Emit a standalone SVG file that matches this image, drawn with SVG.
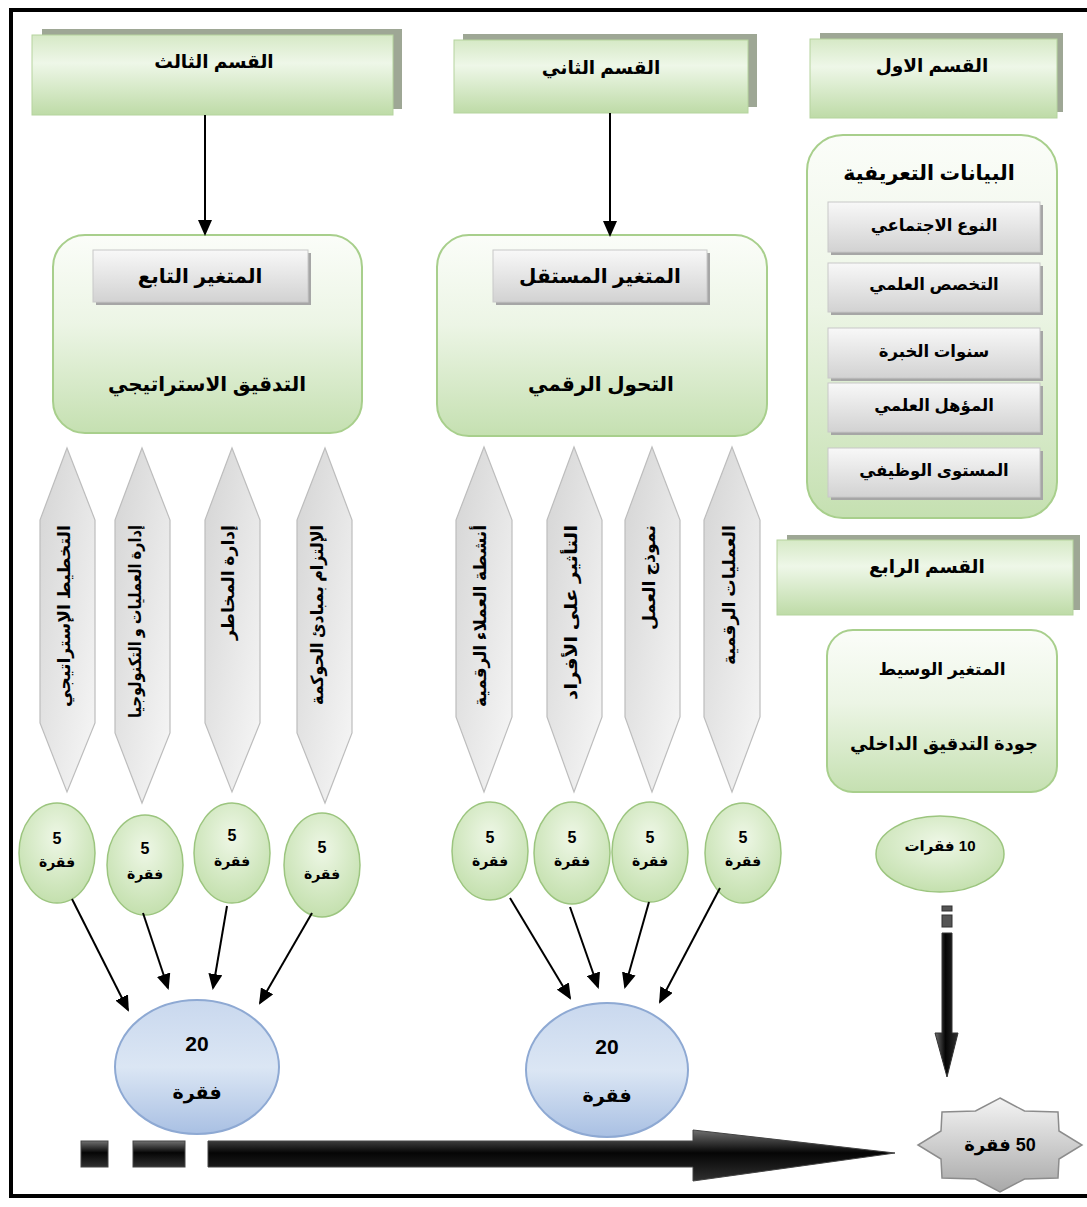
<svg xmlns="http://www.w3.org/2000/svg" width="1087" height="1207" viewBox="0 0 1087 1207">
<defs>
<style>
.t{font-family:"Liberation Sans","DejaVu Sans",sans-serif;font-weight:bold;fill:#000;text-anchor:middle}
.rtl{direction:rtl;unicode-bidi:embed}
.v{font-family:"Liberation Sans","DejaVu Sans",sans-serif;font-weight:bold;fill:#000;text-anchor:end;font-size:17px}
.hdr{fill:url(#gHdr);stroke:#b5d49e;stroke-width:1}
.hsh{fill:#9ea795}
.vbox{fill:url(#gVar);stroke:#a8cf8c;stroke-width:2}
.gbox{fill:url(#gGray);stroke:#c8c8c8;stroke-width:1}
.gsh{fill:#a6a6a6}
.dia{fill:url(#gDia);stroke:#bdbdbd;stroke-width:1.2}
.sc{fill:url(#gCirc);stroke:#9cc57f;stroke-width:1.5}
.bc{fill:url(#gBlue);stroke:#8ea9d3;stroke-width:2}
.ln{stroke:#000;stroke-width:2;fill:none;marker-end:url(#ah)}
.blk{fill:url(#gBlk);stroke:#444;stroke-width:1}
</style>
<linearGradient id="gHdr" x1="0" y1="0" x2="0" y2="1"><stop offset="0" stop-color="#d6e9c6"/><stop offset="0.35" stop-color="#eef7e8"/><stop offset="1" stop-color="#bedba7"/></linearGradient>
<linearGradient id="gVar" x1="0" y1="0" x2="0" y2="1"><stop offset="0" stop-color="#fbfdf9"/><stop offset="0.45" stop-color="#ecf5e5"/><stop offset="1" stop-color="#c5e0b1"/></linearGradient>
<linearGradient id="gGray" x1="0" y1="0" x2="0" y2="1"><stop offset="0" stop-color="#f8f8f8"/><stop offset="1" stop-color="#d2d2d2"/></linearGradient>
<linearGradient id="gDia" x1="0" y1="0" x2="1" y2="1"><stop offset="0" stop-color="#d4d4d4"/><stop offset="1" stop-color="#f7f7f7"/></linearGradient>
<radialGradient id="gCirc" cx="0.5" cy="0.35" r="0.65"><stop offset="0" stop-color="#eef7e6"/><stop offset="1" stop-color="#c4e0ae"/></radialGradient>
<linearGradient id="gBlue" x1="0" y1="0" x2="0" y2="1"><stop offset="0" stop-color="#c9d8ee"/><stop offset="0.5" stop-color="#dbe6f4"/><stop offset="1" stop-color="#a9c0e3"/></linearGradient>
<linearGradient id="gStar" x1="0" y1="0" x2="0" y2="1"><stop offset="0" stop-color="#f4f4f4"/><stop offset="1" stop-color="#a8a8a8"/></linearGradient>
<linearGradient id="gBlk" x1="0" y1="0" x2="0" y2="1"><stop offset="0" stop-color="#707070"/><stop offset="0.45" stop-color="#050505"/><stop offset="1" stop-color="#303030"/></linearGradient>
<linearGradient id="gBlkV" x1="0" y1="0" x2="1" y2="0"><stop offset="0" stop-color="#707070"/><stop offset="0.45" stop-color="#050505"/><stop offset="1" stop-color="#303030"/></linearGradient>
<marker id="ah" markerWidth="16" markerHeight="14" refX="14" refY="7" orient="auto" markerUnits="userSpaceOnUse"><path d="M0,0 L16,7 L0,14 Z" fill="#000"/></marker>
</defs>
<rect width="1087" height="1207" fill="#fff"/>
<rect x="11" y="10" width="1090" height="1186" fill="none" stroke="#000" stroke-width="4"/>

<g id="h3"><rect class="hsh" x="42" y="29" width="360" height="80"/><rect class="hdr" x="32" y="35" width="361" height="80"/><text class="t" x="214" y="68" font-size="18.5">القسم الثالث</text></g>
<g id="h2"><rect class="hsh" x="463" y="34" width="294" height="73"/><rect class="hdr" x="454" y="40" width="294" height="73"/><text class="t" x="601" y="74" font-size="18.5">القسم الثاني</text></g>
<g id="h1"><rect class="hsh" x="820" y="33" width="243" height="79"/><rect class="hdr" x="810" y="39" width="247" height="79"/><text class="t" x="932" y="72" font-size="18.5">القسم الاول</text></g>
<g id="h4"><rect class="hsh" x="787" y="535" width="293" height="75"/><rect class="hdr" x="777" y="540" width="296" height="75"/><text class="t" x="927" y="573" font-size="18.5">القسم الرابع</text></g>

<g id="dep"><rect class="vbox" x="53" y="235" width="309" height="198" rx="32"/><rect class="gsh" x="96" y="253" width="215" height="52"/><rect class="gbox" x="93" y="250" width="215" height="52"/><text class="t" x="200" y="283" font-size="20">المتغير التابع</text><text class="t" x="207" y="391" font-size="20">التدقيق الاستراتيجي</text></g>
<g id="indep"><rect class="vbox" x="437" y="235" width="330" height="201" rx="32"/><rect class="gsh" x="496" y="253" width="214" height="52"/><rect class="gbox" x="493" y="250" width="214" height="52"/><text class="t" x="600" y="283" font-size="20">المتغير المستقل</text><text class="t" x="601" y="391" font-size="20">التحول الرقمي</text></g>

<g id="demo"><rect class="vbox" x="807" y="135" width="250" height="383" rx="36"/>
<text class="t" x="929" y="180" font-size="20.5">البيانات التعريفية</text>
<rect class="gsh" x="831" y="205" width="212" height="50"/><rect class="gbox" x="828" y="202" width="212" height="50"/><text class="t" x="934" y="231" font-size="16.5">النوع الاجتماعي</text>
<rect class="gsh" x="831" y="266" width="212" height="49"/><rect class="gbox" x="828" y="263" width="212" height="49"/><text class="t" x="934" y="290" font-size="16.5">التخصص العلمي</text>
<rect class="gsh" x="831" y="331" width="212" height="50"/><rect class="gbox" x="828" y="328" width="212" height="50"/><text class="t" x="934" y="357" font-size="16.5">سنوات الخبرة</text>
<rect class="gsh" x="831" y="386" width="212" height="49"/><rect class="gbox" x="828" y="383" width="212" height="49"/><text class="t" x="934" y="411" font-size="16.5">المؤهل العلمي</text>
<rect class="gsh" x="831" y="451" width="212" height="49"/><rect class="gbox" x="828" y="448" width="212" height="49"/><text class="t" x="934" y="476" font-size="16.5">المستوى الوظيفي</text>
</g>

<g id="med"><rect class="vbox" x="827" y="630" width="230" height="162" rx="26"/><text class="t" x="942" y="675" font-size="17">المتغير الوسيط</text><text class="t" x="944" y="750" font-size="18">جودة التدقيق الداخلي</text></g>

<g id="dims-dep">
<g id="d1"><path class="dia" d="M67,448 L95,520 L95,723 L67,792 L40,723 L40,520 Z"/><text class="v" transform="translate(67,525) rotate(-90)" x="0" y="3" textLength="182" lengthAdjust="spacingAndGlyphs">التخطيط الإستراتيجي</text></g>
<g id="d2"><path class="dia" d="M142,448 L170,520 L170,733 L142,803 L115,733 L115,520 Z"/><text class="v" transform="translate(142,525) rotate(-90)" x="0" y="-1" font-size="15" textLength="193" lengthAdjust="spacingAndGlyphs">إدارة العمليات و التكنولوجيا</text></g>
<g id="d3"><path class="dia" d="M232,448 L260,520 L260,723 L232,792 L205,723 L205,520 Z"/><text class="v" transform="translate(232,525) rotate(-90)" x="0" y="2" font-size="16" textLength="115" lengthAdjust="spacingAndGlyphs">إدارة المخاطر</text></g>
<g id="d4"><path class="dia" d="M325,448 L352,520 L352,733 L325,803 L297,733 L297,520 Z"/><text class="v" transform="translate(325,525) rotate(-90)" x="0" y="-2" font-size="16" textLength="180" lengthAdjust="spacingAndGlyphs">الإلتزام بمبادئ الحوكمة</text></g>
</g>
<g id="dims-ind">
<g id="d5"><path class="dia" d="M484,447 L512,520 L512,717 L484,792 L456,717 L456,520 Z"/><text class="v" transform="translate(484,525) rotate(-90)" x="0" y="2" textLength="182" lengthAdjust="spacingAndGlyphs">أنشطة العملاء الرقمية</text></g>
<g id="d6"><path class="dia" d="M574,447 L602,520 L602,717 L574,792 L547,717 L547,520 Z"/><text class="v" transform="translate(574,525) rotate(-90)" x="0" y="3" textLength="175" lengthAdjust="spacingAndGlyphs">التأثير  على الأفراد</text></g>
<g id="d7"><path class="dia" d="M652,447 L680,520 L680,717 L652,792 L625,717 L625,520 Z"/><text class="v" transform="translate(652,525) rotate(-90)" x="0" y="3" textLength="105" lengthAdjust="spacingAndGlyphs">نموذج العمل</text></g>
<g id="d8"><path class="dia" d="M732,447 L760,520 L760,717 L732,792 L704,717 L704,520 Z"/><text class="v" transform="translate(732,525) rotate(-90)" x="0" y="3" textLength="140" lengthAdjust="spacingAndGlyphs">العمليات الرقمية</text></g>
</g>

<g id="c-dep">
<g id="c1"><ellipse class="sc" cx="57" cy="853" rx="38" ry="50"/><text class="t" x="57" y="844" font-size="16">5</text><text class="t" x="57" y="867" font-size="14">فقرة</text></g>
<g id="c2"><ellipse class="sc" cx="145" cy="865" rx="38" ry="50"/><text class="t" x="145" y="854" font-size="16">5</text><text class="t" x="145" y="879" font-size="14">فقرة</text></g>
<g id="c3"><ellipse class="sc" cx="232" cy="853" rx="38" ry="50"/><text class="t" x="232" y="841" font-size="16">5</text><text class="t" x="232" y="866" font-size="14">فقرة</text></g>
<g id="c4"><ellipse class="sc" cx="322" cy="865" rx="38" ry="52"/><text class="t" x="322" y="853" font-size="16">5</text><text class="t" x="322" y="879" font-size="14">فقرة</text></g>
</g>
<g id="c-ind">
<g id="c5"><ellipse class="sc" cx="490" cy="851" rx="38" ry="49"/><text class="t" x="490" y="843" font-size="16">5</text><text class="t" x="490" y="866" font-size="14">فقرة</text></g>
<g id="c6"><ellipse class="sc" cx="572" cy="853" rx="38" ry="51"/><text class="t" x="572" y="843" font-size="16">5</text><text class="t" x="572" y="866" font-size="14">فقرة</text></g>
<g id="c7"><ellipse class="sc" cx="650" cy="852" rx="38" ry="50"/><text class="t" x="650" y="843" font-size="16">5</text><text class="t" x="650" y="866" font-size="14">فقرة</text></g>
<g id="c8"><ellipse class="sc" cx="743" cy="853" rx="38" ry="50"/><text class="t" x="743" y="843" font-size="16">5</text><text class="t" x="743" y="866" font-size="14">فقرة</text></g>
</g>

<g id="tot-dep"><ellipse class="bc" cx="197" cy="1067" rx="82" ry="67"/><text class="t" x="197" y="1051" font-size="21">20</text><text class="t" x="197" y="1099" font-size="19">فقرة</text></g>
<g id="tot-ind"><ellipse class="bc" cx="607" cy="1070" rx="81" ry="67"/><text class="t" x="607" y="1054" font-size="21">20</text><text class="t" x="607" y="1102" font-size="19">فقرة</text></g>

<g id="c10"><ellipse class="sc" cx="940" cy="854" rx="64" ry="38"/><text class="t rtl" x="940" y="851" font-size="15">10 فقرات</text></g>

<g id="total50"><path d="M1000,1098 L1024.5,1111 L1058,1112 L1059,1131 L1082,1145 L1059,1159 L1058,1178 L1024.5,1179 L1000,1192 L975.5,1179 L942,1178 L941,1159 L918,1145 L941,1131 L942,1112 L975.5,1111 Z" fill="url(#gStar)" stroke="#8c8c8c" stroke-width="1.5"/><text class="t rtl" x="1000" y="1151" font-size="18">50 فقرة</text></g>

<g id="connectors">
<line class="ln" x1="205" y1="115" x2="205" y2="234"/>
<line class="ln" x1="610" y1="113" x2="610" y2="235"/>
<line class="ln" x1="72" y1="899" x2="128" y2="1010"/>
<line class="ln" x1="143" y1="913" x2="168" y2="988"/>
<line class="ln" x1="227" y1="906" x2="213" y2="988"/>
<line class="ln" x1="312" y1="913" x2="260" y2="1003"/>
<line class="ln" x1="510" y1="898" x2="570" y2="998"/>
<line class="ln" x1="570" y1="907" x2="598" y2="987"/>
<line class="ln" x1="649" y1="902" x2="625" y2="987"/>
<line class="ln" x1="720" y1="888" x2="660" y2="1002"/>
<g id="arrow-v">
<rect x="942" y="906" width="10" height="5" fill="#555" stroke="#333" stroke-width="1"/>
<rect x="942" y="915" width="10" height="12" fill="#555" stroke="#333" stroke-width="1"/>
<path d="M942,933 L952,933 L952,1033 L958,1033 L947,1077 L935,1033 L942,1033 Z" fill="url(#gBlkV)" stroke="#333" stroke-width="1"/>
</g>
<g id="arrow-h">
<rect class="blk" x="81" y="1141" width="27" height="26"/>
<rect class="blk" x="133" y="1141" width="52" height="26"/>
<path class="blk" d="M208,1141 L693,1141 L693,1130 L895,1153 L693,1181 L693,1167 L208,1167 Z"/>
</g>
</g>
</svg>
